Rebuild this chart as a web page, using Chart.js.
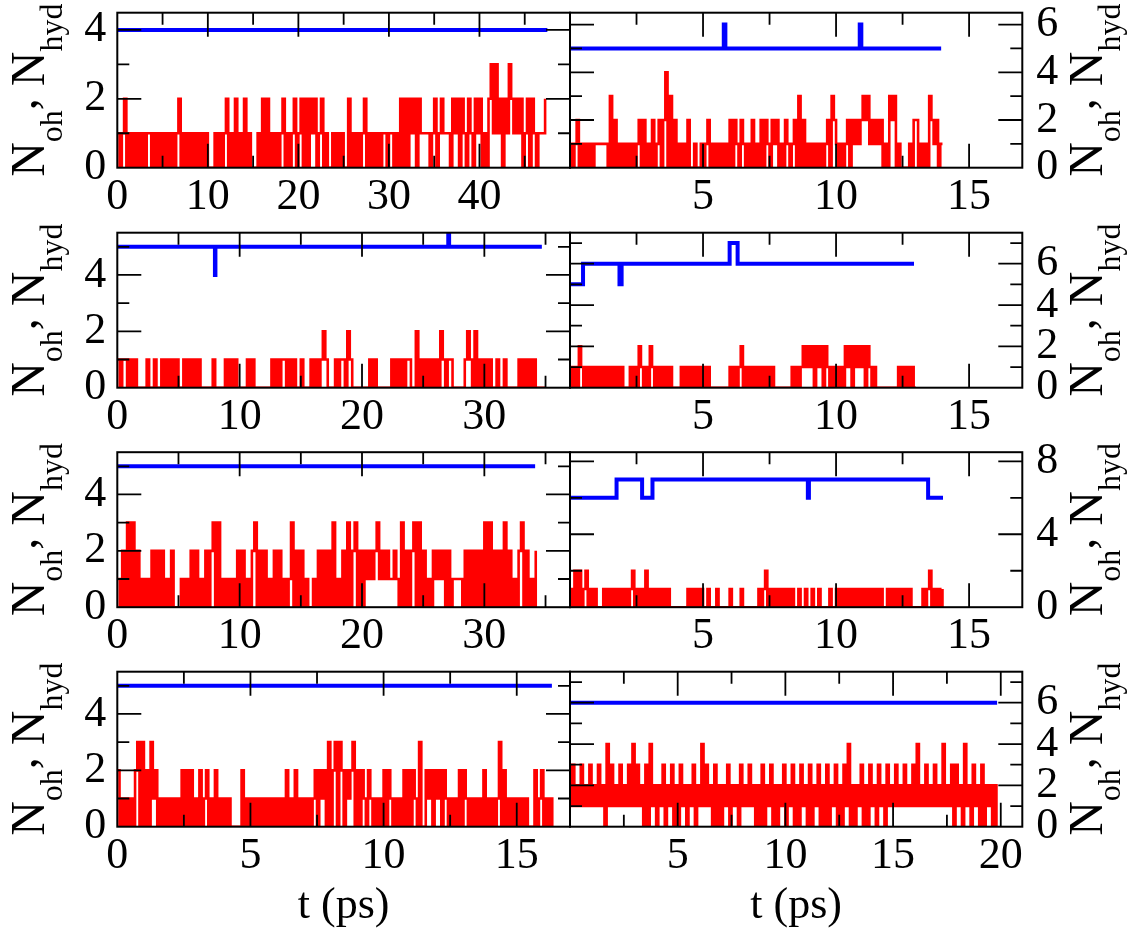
<!DOCTYPE html>
<html>
<head>
<meta charset="utf-8">
<script src="https://cdn.jsdelivr.net/npm/chart.js@4.4.1/dist/chart.umd.min.js"></script>
<style>
  body { margin: 0; background: #fff; width: 1141px; height: 933px; overflow: hidden; position: relative; }
  canvas { position: absolute; }
</style>
</head>
<body>
<canvas id="p1"></canvas>
<canvas id="p2"></canvas>
<canvas id="p3"></canvas>
<canvas id="p4"></canvas>
<canvas id="p5"></canvas>
<canvas id="p6"></canvas>
<canvas id="p7"></canvas>
<canvas id="p8"></canvas>
<script>
// ---------- data ----------
// blue: N_hyd (step changes), red: N_oh sampled every "step" ps

const p1HydT = [0, 47.5];
const p1HydN = [4, 4];
const p1OhStep = 0.25;
const p1Oh = [
  1,0,1,2, 0,1,0,1, 0,1,0,1, 0,1,1,0, 1,0,1,0, 1,0,1,0, 1,0,1,2, 0,1,0,1,
  0,1,0,1, 0,1,0,1, 0,0,0,1, 0,1,0,1, 2,0,1,0, 2,0,1,0, 2,0,1,0, 0,0,1,0,
  2,0,2,0, 1,0,1,0, 1,2,0,1, 0,1,2,0, 1,2,0,2, 0,2,1,2, 0,1,2,0, 1,0,0,1,
  0,1,0,1, 0,0,2,0, 1,0,1,0, 1,2,0,1, 0,1,0,1, 0,1,1,0, 1,1,0,1, 0,2,0,2,
  0,2,1,2, 0,2,1,1, 1,1,0,1, 2,0,1,2, 1,1,1,0, 2,1,2,0, 2,1,0,2, 1,0,2,1,
  2,0,1,0, 2,3,1,3, 1,2,0,2, 1,3,2,1, 2,1,2,0, 1,2,0,2, 1,0,1,1, 1,2
];

const p2HydT = [0, 5.78, 5.84, 10.89, 10.95, 13.95];
const p2HydN = [5, 6, 5, 6, 5, 5];
const p2OhStep = 1 / 12;
const p2Oh = [
  1,0,1,2,0,1,0,1,0,1,0,1,
  1,1,1,1,1,0,3,0,2,0,1,0,
  1,0,1,0,1,0,1,2,0,2,0,1,
  0,2,0,1,2,0,2,4,0,3,0,2,
  0,1,0,1,0,2,0,0,1,0,0,1,
  0,1,2,0,1,0,1,0,1,0,1,0,
  2,0,2,1,0,2,1,0,1,0,2,0,
  1,0,2,0,2,1,0,2,1,2,0,1,
  0,2,1,0,1,2,0,3,0,2,0,1,
  0,1,0,1,0,1,0,1,2,0,3,2,
  1,0,1,0,1,2,0,2,1,2,1,2,
  3,2,3,1,2,1,2,1,2,0,1,0,
  3,2,3,0,1,0,0,0,0,1,0,2,
  2,0,1,0,1,0,3,2,1,2,0,1,
  1
];

const p3HydT = [0, 7.98, 8.02, 27.05, 27.12, 34.7];
const p3HydN = [5, 4, 5, 6, 5, 5];
const p3OhStep = 0.2;
const p3Oh = [
  1,0,1,1,0, 1,0,1,0,0, 0,0,1,0,0, 1,0,0,1,0, 1,0,1,0,1, 0,0,1,0,1,
  0,1,0,1,0, 0,0,0,0,1, 0,0,0,0,1, 0,1,0,1,0, 0,0,0,1,0, 1,0,0,0,0,
  0,0,0,1,0, 1,0,1,1,0, 1,0,1,0,0, 1,0,0,0,1, 0,1,0,1,2, 1,0,0,0,1,
  0,1,1,0,2, 1,0,0,0,0, 0,0,0,1,0, 1,0,0,0,0, 0,0,1,0,1, 0,1,0,1,1,
  0,0,2,0,1, 0,1,0,1,0, 1,0,2,1,0, 1,1,0,0,0, 0,0,1,2,1, 0,2,0,1,0,
  1,0,1,0,0, 1,0,0,1,0, 0,0,0,0,1, 0,1,0,1,0, 1,0,0,0,0, 0
];

const p4HydT = [0, 0.49, 1.86, 1.94, 6.0, 6.3, 12.93];
const p4HydN = [5, 6, 5, 6, 7, 6, 6];
const p4OhStep = 1 / 12;
const p4Oh = [
  1,0,1,0,2,1,0,1,0,1,0,1,
  0,1,0,1,0,1,0,1,0,1,0,1,
  0,0,0,1,0,1,0,2,1,0,1,0,
  2,1,0,1,0,1,0,1,0,1,0,0,
  0,0,1,0,1,0,1,0,1,0,1,0,
  1,0,1,0,0,0,0,0,0,0,0,0,
  1,0,1,0,1,2,0,1,0,1,0,1,
  0,1,0,1,0,1,0,1,0,0,0,0,
  0,0,0,0,1,0,1,0,1,2,1,2,
  1,2,0,2,1,2,0,2,1,0,1,0,
  1,0,1,0,2,1,2,0,2,1,2,1,
  2,0,2,1,0,1,0,0,0,0,0,0,
  0,0,0,0,1,0,1,0,1,0,1,0,
  0
];

const p5HydT = [0, 34.15];
const p5HydN = [5, 5];
const p5OhStep = 0.2;
const p5Oh = [
  1,0,2,0,3, 0,3,0,2,0, 1,0,1,0,2, 0,2,0,2,0, 1,0,2,0,0, 0,1,0,1,0,
  2,0,2,0,1, 0,2,0,2,3, 0,3,0,1,0, 1,0,1,0,2, 0,2,0,1,0, 2,3,0,2,0,
  2,0,1,0,2, 0,2,0,1,0, 1,3,0,2,0, 2,0,1,0,0, 1,0,2,0,2, 0,2,0,3,0,
  1,0,2,0,3, 0,2,3,0,2, 0,2,1,2,1, 2,3,1,2,1, 2,1,1,2,1, 0,3,0,2,0,
  2,3,0,3,0, 2,0,1,0,2, 1,2,1,2,0, 2,0,1,1,1, 1,0,2,0,2, 0,2,0,2,0,
  3,0,3,0,2, 0,2,0,3,0, 2,0,1,0,2, 3,0,2,0,1, 0,2
];

const p6HydT = [0, 1.75, 2.71, 3.1, 8.94, 8.98, 13.46, 14.02];
const p6HydN = [6, 7, 6, 7, 6, 7, 6, 6];
const p6OhStep = 1 / 12;
const p6Oh = [
  1,0,2,0,2,0,1,2,0,1,0,1,
  0,0,0,1,0,1,0,1,0,1,0,1,
  0,1,0,1,2,0,1,0,1,0,2,0,
  1,0,1,0,1,0,1,0,1,0,0,0,
  0,0,0,0,0,1,0,1,0,1,0,1,
  0,0,1,0,0,0,1,0,0,0,0,0,
  1,0,0,0,0,1,0,0,0,0,0,0,
  0,1,0,1,2,0,1,0,1,0,1,0,
  1,0,1,0,1,0,0,1,0,0,1,0,
  0,1,0,0,1,0,0,0,0,1,0,0,
  1,0,1,0,1,0,1,0,1,0,1,0,
  1,0,1,0,1,0,1,0,1,0,0,1,
  0,1,0,1,0,1,0,1,0,1,0,0,
  0,0,0,1,0,1,2,0,1,0,1,0,
  1
];

const p7HydT = [0, 16.32];
const p7HydN = [5, 5];
const p7OhStep = 1 / 12;
const p7Oh = [
  2,0,1,0,1,0,1,0,2,3,0,3,
  0,2,0,3,1,2,0,1,0,1,0,1,
  0,1,0,1,0,2,0,2,0,2,0,1,
  0,2,0,1,2,0,1,0,2,0,1,0,
  1,0,1,0,0,0,0,0,2,0,1,0,
  1,0,1,0,1,0,1,0,1,0,1,0,
  1,0,1,0,2,0,1,0,2,0,1,0,
  1,0,1,0,1,2,0,2,1,2,0,3,
  0,2,3,0,3,2,0,2,1,2,3,0,
  2,0,2,1,0,2,1,0,1,0,1,0,
  2,0,2,1,0,1,0,1,0,2,0,2,
  0,2,1,0,3,0,0,2,1,2,0,2,
  1,2,0,2,1,0,1,0,1,0,2,0,
  2,1,0,1,0,1,0,1,0,2,0,1,
  0,1,0,1,3,0,2,0,1,0,1,0,
  1,0,1,0,1,0,0,0,2,0,1,2,
  0,1,0,1,0
];

const p8HydT = [0, 19.83];
const p8HydN = [6, 6];
const p8OhStep = 0.1;
const p8Oh = [
  1,3,1,2,1,3,1,2,1,3, 1,2,1,3,1,2,0,4,1,3, 1,2,1,3,1,2,1,3,1,4,
  1,3,1,2,0,3,0,4,1,2, 0,2,1,3,0,2,1,3,0,2, 0,3,1,2,0,2,1,3,0,2,
  1,4,1,3,1,2,0,3,0,2, 0,2,1,3,0,2,1,2,0,3, 1,2,1,3,1,2,0,2,0,3,
  0,2,1,3,0,2,0,2,1,3, 0,2,1,3,0,2,0,3,1,2, 0,3,0,2,1,3,0,2,0,3,
  0,2,1,3,0,2,0,3,1,4, 0,2,0,2,1,3,0,2,0,3, 1,2,0,3,1,2,0,3,1,2,
  1,3,1,2,1,3,1,2,1,3, 1,4,1,2,1,3,1,2,1,3, 1,2,1,4,1,2,1,3,0,3,
  1,2,0,4,1,2,0,3,1,2, 0,3,0,2,1,2,0,2,0
];

// axis ranges and ticks
const xMaxes = [50, 17, 37, 17, 37, 17, 17, 21];
const yMaxes = [4.5, 6.5, 5.5, 7.5, 5.5, 8.5, 5.5, 7.5];
const xLabelTicks = [
  [0, 10, 20, 30, 40], [5, 10, 15],
  [0, 10, 20, 30], [5, 10, 15],
  [0, 10, 20, 30], [5, 10, 15],
  [0, 5, 10, 15], [5, 10, 15, 20]
];
const xMinorTicks = [
  [5, 15, 25, 35, 45], [2.5, 7.5, 12.5],
  [5, 15, 25, 35], [2.5, 7.5, 12.5],
  [5, 15, 25, 35], [2.5, 7.5, 12.5],
  [2.5, 7.5, 12.5], [2.5, 7.5, 12.5, 17.5]
];
const yLabelTicks = [
  [0, 2, 4], [0, 2, 4, 6],
  [0, 2, 4], [0, 2, 4, 6],
  [0, 2, 4], [0, 4, 8],
  [0, 2, 4], [0, 2, 4, 6]
];
const yMinorTicks = [
  [1, 3], [1, 3, 5],
  [1, 3, 5], [1, 3, 5, 7],
  [1, 3, 5], [2, 6],
  [1, 3, 5], [1, 3, 5, 7]
];

// ---------- layout ----------
const rowTops = [12.7, 232.7, 452.2, 671.7];
const panelH = 155;
const leftArea = [117.3, 570];
const rightArea = [570, 1022.3];
const serif = "'Liberation Serif', 'DejaVu Serif', serif";

function toPoints(tArr, nArr) {
  return tArr.map((t, i) => ({ x: t, y: nArr[i] }));
}

function sampled(values, step) {
  return values.map((v, i) => ({ x: i * step, y: v }));
}

// frame, inward ticks on all four sides, axis titles
const frameAndTitles = {
  id: "frameAndTitles",
  afterDraw(chart, args, o) {
    const ctx = chart.ctx;
    const a = chart.chartArea;
    const xs = chart.scales.x;
    const ys = chart.scales.y;
    ctx.save();
    ctx.strokeStyle = "#000";
    ctx.lineWidth = 1.8;
    ctx.beginPath();
    const xMark = (v, len) => {
      const px = xs.getPixelForValue(v);
      ctx.moveTo(px, a.bottom); ctx.lineTo(px, a.bottom - len);
      ctx.moveTo(px, a.top); ctx.lineTo(px, a.top + len);
    };
    const yMark = (v, len) => {
      const py = ys.getPixelForValue(v);
      ctx.moveTo(a.left, py); ctx.lineTo(a.left + len, py);
      ctx.moveTo(a.right, py); ctx.lineTo(a.right - len, py);
    };
    o.xMajor.filter(v => v > 0).forEach(v => xMark(v, 24));
    o.xMinor.forEach(v => xMark(v, 12));
    o.yMajor.filter(v => v > 0).forEach(v => yMark(v, 24));
    o.yMinor.forEach(v => yMark(v, 12));
    ctx.stroke();
    ctx.lineWidth = 2;
    ctx.strokeRect(a.left, a.top, a.right - a.left, a.bottom - a.top);

    // N_oh, N_hyd (rotated, reads upward)
    const bx = o.side === "left" ? a.left - 73.3 : a.right + 79.7;
    const cy = (a.top + a.bottom) / 2;
    const parts = [
      { t: "N", s: 48, dy: 0 },
      { t: "oh", s: 32, dy: 18 },
      { t: ",", s: 48, dy: -8 },
      { t: " N", s: 48, dy: 0 },
      { t: "hyd", s: 32, dy: 18 }
    ];
    ctx.fillStyle = "#000";
    ctx.textBaseline = "alphabetic";
    ctx.textAlign = "left";
    let total = 0;
    parts.forEach(p => {
      ctx.font = p.s + "px " + serif;
      p.w = ctx.measureText(p.t).width;
      total += p.w;
    });
    ctx.translate(bx, cy);
    ctx.rotate(-Math.PI / 2);
    let cx = -total / 2;
    parts.forEach(p => {
      ctx.font = p.s + "px " + serif;
      ctx.fillText(p.t, cx, p.dy);
      cx += p.w;
    });
    ctx.setTransform(1, 0, 0, 1, 0, 0);

    if (o.bottomRow) {
      ctx.font = "44px " + serif;
      ctx.textAlign = "center";
      ctx.fillText("t (ps)", (a.left + a.right) / 2, a.bottom + 91);
    }
    ctx.restore();
  }
};

function buildPanel(k, oh, ohStep, hydT, hydN) {
  const canvas = document.getElementById("p" + (k + 1));
  const isLeft = k % 2 === 0;
  const row = Math.floor(k / 2);
  const canvasLeft = isLeft ? 0 : 555;
  const canvasW = isLeft ? 585 : 586;
  const top = rowTops[row];
  const canvasTop = Math.floor(top) - 25;
  const padTop = top - canvasTop;
  const xH = row === 3 ? 110 : 70;
  const canvasH = Math.ceil(padTop + panelH + xH);
  const padBottom = canvasH - padTop - panelH - xH;
  const yW = isLeft ? leftArea[0] - canvasLeft : canvasW - 15 - (rightArea[1] - rightArea[0]);

  canvas.width = canvasW;
  canvas.height = canvasH;
  canvas.style.left = canvasLeft + "px";
  canvas.style.top = canvasTop + "px";
  canvas.style.width = canvasW + "px";
  canvas.style.height = canvasH + "px";

  const tickFont = { family: serif, size: 44, lineHeight: 1.2 };

  new Chart(canvas, {
    type: "line",
    data: {
      datasets: [
        {
          label: "N_oh",
          data: sampled(oh, ohStep),
          borderColor: "#ff0000",
          borderWidth: 2.6,
          stepped: true,
          pointRadius: 0,
          fill: false
        },
        {
          label: "N_hyd",
          data: toPoints(hydT, hydN),
          borderColor: "#0000ff",
          borderWidth: 4,
          stepped: true,
          pointRadius: 0,
          fill: false
        }
      ]
    },
    options: {
      responsive: false,
      animation: false,
      events: [],
      layout: {
        padding: {
          left: isLeft ? 0 : 15,
          right: isLeft ? 15 : 0,
          top: padTop,
          bottom: padBottom
        }
      },
      plugins: {
        legend: { display: false },
        tooltip: { enabled: false },
        frameAndTitles: {
          side: isLeft ? "left" : "right",
          bottomRow: row === 3,
          xMajor: xLabelTicks[k],
          xMinor: xMinorTicks[k],
          yMajor: yLabelTicks[k],
          yMinor: yMinorTicks[k]
        }
      },
      scales: {
        x: {
          type: "linear",
          min: 0,
          max: xMaxes[k],
          afterBuildTicks: s => { s.ticks = xLabelTicks[k].map(v => ({ value: v })); },
          afterFit: s => { s.height = xH; s.paddingLeft = 0; s.paddingRight = 0; },
          grid: { display: false, drawTicks: false },
          border: { display: false },
          ticks: {
            autoSkip: false,
            maxRotation: 0,
            padding: 3,
            color: "#000",
            font: tickFont,
            callback: v => String(v)
          }
        },
        y: {
          type: "linear",
          position: isLeft ? "left" : "right",
          min: 0,
          max: yMaxes[k],
          afterBuildTicks: s => { s.ticks = yLabelTicks[k].map(v => ({ value: v })); },
          afterFit: s => { s.width = yW; s.paddingTop = 0; s.paddingBottom = 0; },
          grid: { display: false, drawTicks: false },
          border: { display: false },
          ticks: {
            autoSkip: false,
            padding: isLeft ? 11 : 14,
            color: "#000",
            font: tickFont,
            callback: v => String(v)
          }
        }
      }
    },
    plugins: [frameAndTitles]
  });
}

buildPanel(0, p1Oh, p1OhStep, p1HydT, p1HydN);
buildPanel(1, p2Oh, p2OhStep, p2HydT, p2HydN);
buildPanel(2, p3Oh, p3OhStep, p3HydT, p3HydN);
buildPanel(3, p4Oh, p4OhStep, p4HydT, p4HydN);
buildPanel(4, p5Oh, p5OhStep, p5HydT, p5HydN);
buildPanel(5, p6Oh, p6OhStep, p6HydT, p6HydN);
buildPanel(6, p7Oh, p7OhStep, p7HydT, p7HydN);
buildPanel(7, p8Oh, p8OhStep, p8HydT, p8HydN);
</script>
</body>
</html>
